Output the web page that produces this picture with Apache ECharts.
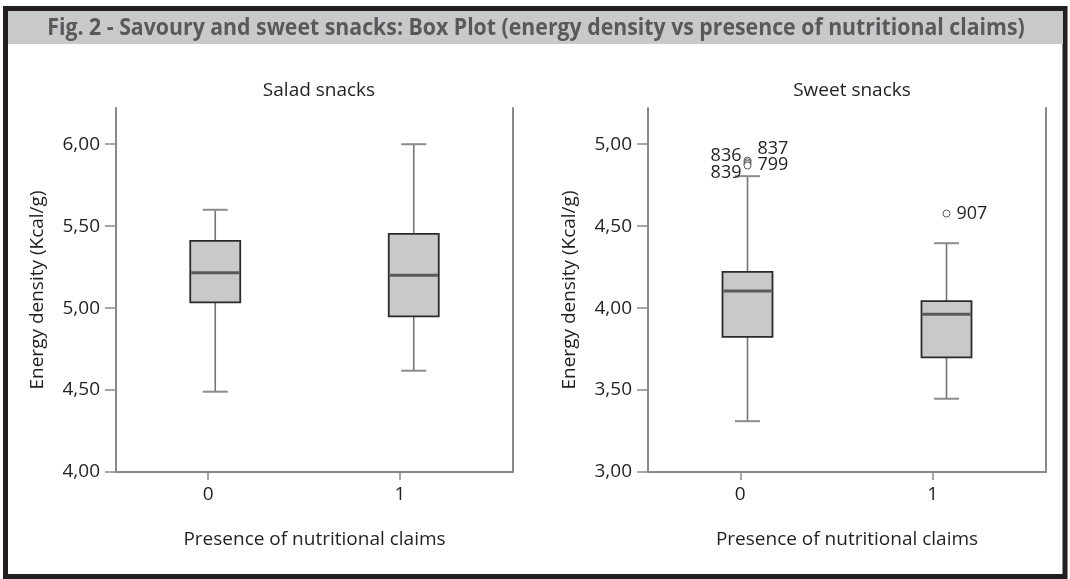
<!DOCTYPE html>
<html>
<head>
<meta charset="utf-8">
<script src="https://cdn.jsdelivr.net/npm/echarts@6/dist/echarts.min.js"></script>
<style>html,body{margin:0;padding:0;background:#fff}#c{width:1070px;height:579px}</style>
</head>
<body>
<div id="c"></div>
<script>
// ---- data ----
const categories = ['0', '1'];
const xTickValues = [0, 1];
// [low, q1, median, q3, high]
const saladBoxes = [
  [4.49, 5.035, 5.215, 5.41, 5.60],
  [4.618, 4.949, 5.201, 5.453, 6.00]
];
const sweetBoxes = [
  [3.31, 3.825, 4.104, 4.221, 4.805],
  [3.447, 3.699, 3.962, 4.043, 4.396]
];
const saladTicks = [4.0, 4.5, 5.0, 5.5, 6.0];
const sweetTicks = [3.0, 3.5, 4.0, 4.5, 5.0];
// outliers: [category index, value, case label]
const sweetOutliers = [
  [0, 4.900, '837'],
  [0, 4.890, '836'],
  [0, 4.880, '799'],
  [0, 4.870, '839'],
  [1, 4.577, '907']
];
const outlierLabelSide = { '837': ['right', -12], '836': ['left', -6], '799': ['right', 1], '839': ['left', 7], '907': ['right', 0] };

const FONT = 'Open Sans';
const FS = 19;
const TXT = '#231f20';
const AX = '#8a8a8a';

function fmt(v) { return v.toFixed(2).replace('.', ','); }

function boxRender(params, api) {
  const c = api.value(0);
  const pLow = api.coord([c, api.value(1)]);
  const pQ1 = api.coord([c, api.value(2)]);
  const pMed = api.coord([c, api.value(3)]);
  const pQ3 = api.coord([c, api.value(4)]);
  const pHigh = api.coord([c, api.value(5)]);
  const x = pMed[0];
  const hw = 25, cw = 12.5;
  const wStyle = { stroke: '#747474', lineWidth: 1.6 };
  return {
    type: 'group',
    children: [
      { type: 'line', shape: { x1: x, y1: pQ3[1], x2: x, y2: pHigh[1] }, style: wStyle },
      { type: 'line', shape: { x1: x, y1: pQ1[1], x2: x, y2: pLow[1] }, style: wStyle },
      { type: 'line', shape: { x1: x - cw, y1: pHigh[1], x2: x + cw, y2: pHigh[1] }, style: { stroke: '#8c8c8c', lineWidth: 2 } },
      { type: 'line', shape: { x1: x - cw, y1: pLow[1], x2: x + cw, y2: pLow[1] }, style: { stroke: '#8c8c8c', lineWidth: 2 } },
      { type: 'rect', shape: { x: x - hw, y: pQ3[1], width: 2 * hw, height: pQ1[1] - pQ3[1] }, style: { fill: '#c8c9cb', stroke: '#2b2b2b', lineWidth: 1.8 } },
      { type: 'line', shape: { x1: x - hw + 1, y1: pMed[1], x2: x + hw - 1, y2: pMed[1] }, style: { stroke: '#58595b', lineWidth: 3 } }
    ]
  };
}

function boxData(arr) { return arr.map((b, i) => [i].concat(b)); }

function panel(g, ticks, ymin, ymax) {
  return {
    xCat: { type: 'category', gridIndex: g, data: categories, boundaryGap: true,
      axisLine: { show: true, onZero: false, lineStyle: { color: AX, width: 2 } }, axisTick: { show: false }, axisLabel: { show: false } },
    xVal: { type: 'value', gridIndex: g, min: -0.48, max: 1.59, position: 'bottom',
      axisLine: { show: false, onZero: false }, splitLine: { show: false },
      axisTick: { show: true, length: 8, customValues: xTickValues, lineStyle: { color: AX, width: 1.5 } },
      axisLabel: { customValues: xTickValues, margin: 13, color: TXT, fontSize: FS, fontFamily: FONT, formatter: v => String(v) },
      name: 'Presence of nutritional claims', nameLocation: 'middle', nameGap: 58,
      nameTextStyle: { color: TXT, fontSize: FS, fontFamily: FONT } },
    yMain: { type: 'value', gridIndex: g, min: ymin, max: ymax,
      axisLine: { show: true, onZero: false, lineStyle: { color: AX, width: 2 } }, splitLine: { show: false },
      axisTick: { show: true, inside: false, length: 11, customValues: ticks, lineStyle: { color: AX, width: 1.5 } },
      axisLabel: { customValues: ticks, margin: 16, color: TXT, fontSize: FS, fontFamily: FONT, formatter: fmt },
      name: 'Energy density (Kcal/g)', nameLocation: 'middle', nameGap: 69,
      nameTextStyle: { color: TXT, fontSize: FS, fontFamily: FONT } },
    yRight: { type: 'value', gridIndex: g, min: ymin, max: ymax, position: 'right',
      axisLine: { show: true, onZero: false, lineStyle: { color: AX, width: 2 } }, splitLine: { show: false },
      axisTick: { show: false }, axisLabel: { show: false } }
  };
}

const p0 = panel(0, saladTicks, 4.0, 6.221);
const p1 = panel(1, sweetTicks, 3.0, 5.221);

const option = {
  animation: false,
  backgroundColor: '#ffffff',
  title: [
    { text: 'Salad snacks', left: 314, top: 76, textAlign: 'center', textStyle: { color: TXT, fontSize: FS, fontWeight: 'normal', fontFamily: FONT } },
    { text: 'Sweet snacks', left: 847, top: 76, textAlign: 'center', textStyle: { color: TXT, fontSize: FS, fontWeight: 'normal', fontFamily: FONT } }
  ],
  graphic: [
    { type: 'rect', silent: true, z: -1, shape: { x: 5.5, y: 8.5, width: 1059.5, height: 568 }, style: { fill: '#fff', stroke: '#231f20', lineWidth: 5 } },
    { type: 'rect', silent: true, z: 0, shape: { x: 8, y: 11, width: 1055, height: 33 }, style: { fill: '#c8c9cb' } },
    { type: 'text', silent: true, z: 1, x: 536, y: 28, scaleX: 0.925,
      style: { text: 'Fig. 2 - Savoury and sweet snacks: Box Plot (energy density vs presence of nutritional claims)',
        fill: '#58595b', font: 'bold 23px "Open Sans"', align: 'center', verticalAlign: 'middle' } }
  ],
  grid: [
    { left: 116, top: 108, width: 397, height: 364 },
    { left: 648, top: 108, width: 398, height: 364 }
  ],
  xAxis: [p0.xCat, p0.xVal, p1.xCat, p1.xVal],
  yAxis: [p0.yMain, p0.yRight, p1.yMain, p1.yRight],
  series: [
    { type: 'custom', xAxisIndex: 0, yAxisIndex: 0, renderItem: boxRender, data: boxData(saladBoxes), encode: { x: 0, y: [1, 2, 3, 4, 5] } },
    { type: 'custom', xAxisIndex: 2, yAxisIndex: 2, renderItem: boxRender, data: boxData(sweetBoxes), encode: { x: 0, y: [1, 2, 3, 4, 5] } },
    { type: 'scatter', xAxisIndex: 2, yAxisIndex: 2, symbol: 'circle', symbolSize: 7, z: 5,
      itemStyle: { color: '#ffffff', borderColor: '#58595b', borderWidth: 1, opacity: 1 },
      data: sweetOutliers.map(o => ({
        value: [o[0], o[1]], name: o[2],
        label: { show: true, position: outlierLabelSide[o[2]][0], offset: [0, outlierLabelSide[o[2]][1]], distance: outlierLabelSide[o[2]][0] === 'right' ? 6 : 2,
          formatter: o[2], color: TXT, fontSize: 18, fontFamily: FONT }
      }))
    }
  ]
};

const chart = echarts.init(document.getElementById('c'), null, { renderer: 'canvas' });
chart.setOption(option);
</script>
</body>
</html>
